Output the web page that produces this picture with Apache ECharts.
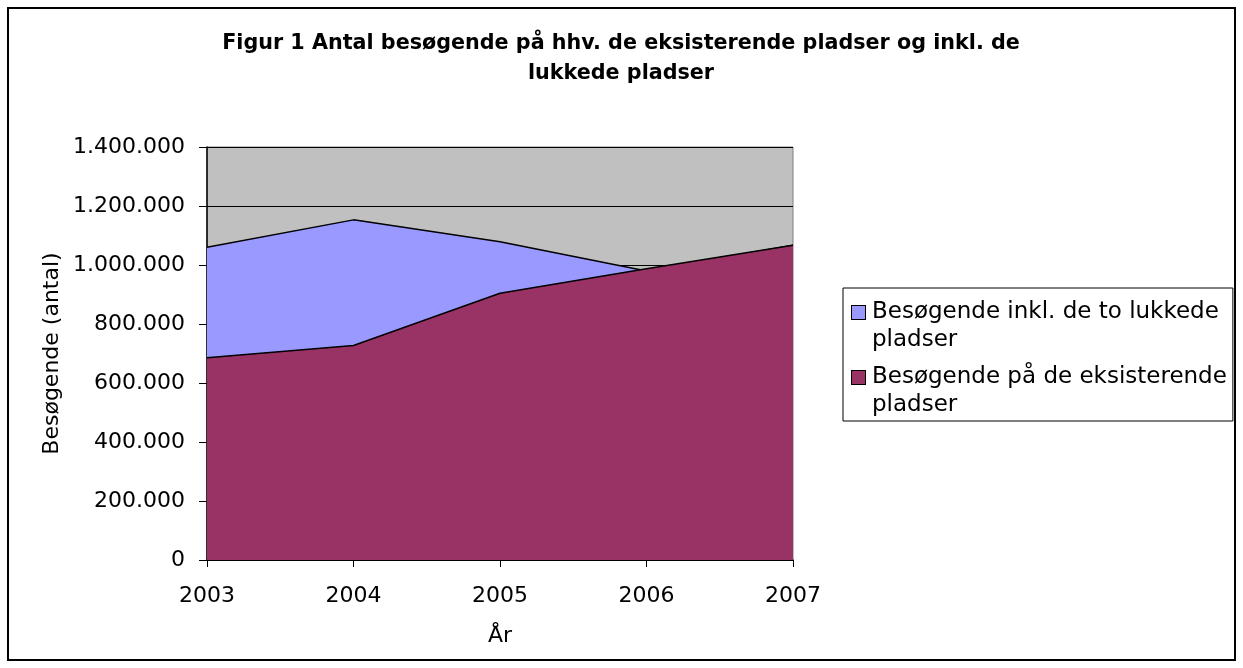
<!DOCTYPE html>
<html lang="da">
<head>
    <meta charset="UTF-8">
    <title>Figur 1</title>
    <script src="https://cdn.jsdelivr.net/npm/echarts@6/dist/echarts.min.js"></script>
    <style>
        body { margin: 0; background: #fff; }
        #main { width: 1243px; height: 668px; }
    </style>
</head>
<body>
<div id="main"></div>
<script type="text/javascript">
    // data
    var years = ['2003', '2004', '2005', '2006', '2007'];
    var inklLukkede = [1060000, 1153000, 1079000, 980000, 1067000];
    var eksisterende = [686000, 727000, 904000, 987000, 1067000];
    var seriesNames = ['Besøgende inkl. de to lukkede pladser', 'Besøgende på de eksisterende pladser'];
    var legendLines = [['Besøgende inkl. de to lukkede', 'pladser'], ['Besøgende på de eksisterende', 'pladser']];
    var colors = ['#9999FF', '#993366'];

    var font = 'DejaVu Sans, Verdana, sans-serif';

    function dotted(v) {
        return String(v).replace(/\B(?=(\d{3})+(?!\d))/g, '.');
    }

    var myChart = echarts.init(document.getElementById('main'));
    myChart.setOption({
        animation: false,
        backgroundColor: '#fff',
        title: {
            text: 'Figur 1 Antal besøgende på hhv. de eksisterende pladser og inkl. de\nlukkede pladser',
            left: 616,
            top: 24,
            textAlign: 'center',
            textStyle: {
                fontFamily: font,
                fontWeight: 'bold',
                fontSize: 20.7,
                lineHeight: 30,
                color: '#000'
            }
        },
        graphic: [{
            type: 'rect',
            shape: {x: 8, y: 8, width: 1227, height: 652},
            style: {fill: 'none', stroke: '#000', lineWidth: 2},
            silent: true
        }],
        legend: {
            orient: 'vertical',
            left: 843,
            top: 288,
            width: 392,
            padding: [13, 6, 4, 3],
            itemGap: 14,
            itemWidth: 0,
            itemHeight: 0,
            backgroundColor: '#fff',
            borderColor: '#000',
            borderWidth: 1,
            data: seriesNames,
            formatter: function (name) {
                var i = seriesNames.indexOf(name);
                var box = i === 0 ? 'b0' : 'b1';
                return '{' + box + '|}{sp|}{t|' + legendLines[i][0] + '}\n{ind|}{t|' + legendLines[i][1] + '}';
            },
            textStyle: {
                fontFamily: font,
                fontSize: 23,
                color: '#000',
                rich: {
                    t: {fontFamily: font, fontSize: 23, lineHeight: 28, color: '#000'},
                    b0: {width: 13, height: 13, backgroundColor: colors[0], borderColor: '#000', borderWidth: 1},
                    b1: {width: 13, height: 13, backgroundColor: colors[1], borderColor: '#000', borderWidth: 1},
                    sp: {width: 7},
                    ind: {width: 20}
                }
            }
        },
        grid: {
            left: 207,
            right: 450,
            top: 147,
            bottom: 108,
            show: true,
            backgroundColor: '#C0C0C0',
            borderColor: '#808080',
            borderWidth: 1
        },
        xAxis: {
            type: 'category',
            data: years,
            boundaryGap: false,
            name: 'År',
            nameLocation: 'middle',
            nameGap: 65,
            nameTextStyle: {fontFamily: font, fontSize: 22, color: '#000'},
            axisLine: {show: true, lineStyle: {color: '#000', width: 1.5}},
            axisTick: {show: true, inside: false, length: 7, lineStyle: {color: '#000'}},
            axisLabel: {fontFamily: font, fontSize: 22, color: '#000', margin: 25, showMaxLabel: true, showMinLabel: true},
            splitLine: {show: false}
        },
        yAxis: {
            type: 'value',
            min: 0,
            max: 1400000,
            interval: 200000,
            name: 'Besøgende (antal)',
            nameLocation: 'middle',
            nameRotate: 90,
            nameGap: 144,
            nameTextStyle: {fontFamily: font, fontSize: 22, color: '#000'},
            axisLine: {show: true, lineStyle: {color: '#000', width: 1.5}},
            axisTick: {show: true, inside: false, length: 8, lineStyle: {color: '#000'}},
            axisLabel: {fontFamily: font, fontSize: 22, color: '#000', margin: 22, formatter: dotted},
            splitLine: {show: true, lineStyle: {color: '#000', width: 1}}
        },
        series: [
            {
                name: seriesNames[0],
                type: 'line',
                data: inklLukkede,
                symbol: 'none',
                color: colors[0],
                lineStyle: {color: '#000', width: 1.5},
                areaStyle: {color: colors[0], opacity: 1},
                z: 2
            },
            {
                name: seriesNames[1],
                type: 'line',
                data: eksisterende,
                symbol: 'none',
                color: colors[1],
                lineStyle: {color: '#000', width: 1.5},
                areaStyle: {color: colors[1], opacity: 1},
                z: 3
            }
        ]
    });
</script>
</body>
</html>
